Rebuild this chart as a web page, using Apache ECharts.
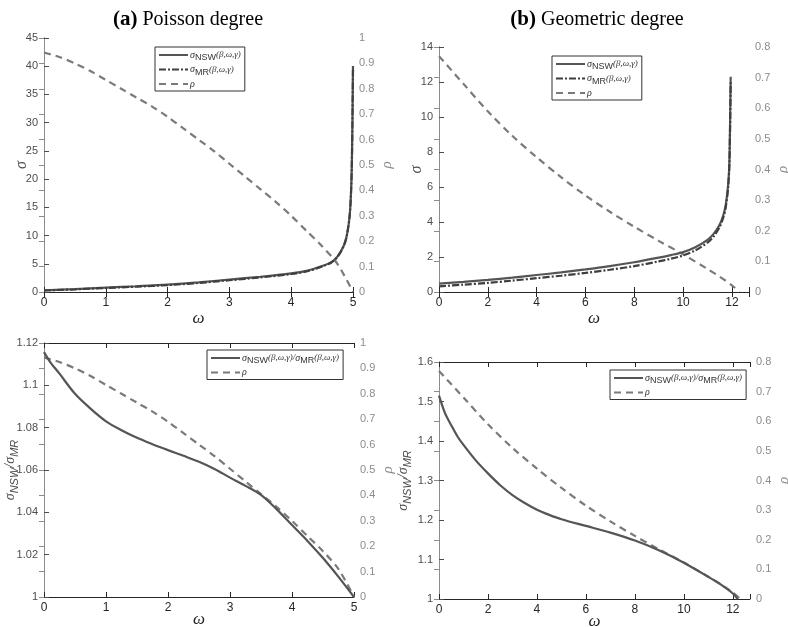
<!DOCTYPE html>
<html><head><meta charset="utf-8">
<script src="https://cdn.jsdelivr.net/npm/echarts@6/dist/echarts.min.js"></script>
<style>html,body{margin:0;padding:0;background:#fff}#c{width:788px;height:627px}</style>
</head><body><div id="c"></div>
<script>
// ---------- Panel (a) Poisson degree ----------
const omegaA = [0,0.5,1,1.5,2,2.5,3,3.5,4,4.25,4.5,4.65,4.75,4.85,4.9,4.95,4.98,5.0];
const sigmaNswA = [0.30,0.52,0.77,1.02,1.30,1.70,2.20,2.70,3.30,3.75,4.60,5.30,6.30,8.20,10.0,14.0,22.0,40.0];
const sigmaMrA  = [0.27,0.47,0.71,0.95,1.22,1.60,2.08,2.58,3.19,3.65,4.52,5.23,6.24,8.15,9.96,13.97,21.98,40.0];
const omegaRhoA = [0,0.25,0.5,0.75,1,1.25,1.5,1.75,2,2.25,2.5,2.75,3,3.25,3.5,3.75,4,4.25,4.5,4.75,5];
const rhoA = [0.943,0.925,0.900,0.870,0.835,0.800,0.765,0.730,0.690,0.645,0.600,0.555,0.505,0.455,0.405,0.355,0.300,0.240,0.180,0.110,0.0];
const omegaRatioA = [0,0.1,0.25,0.5,0.75,1,1.25,1.5,1.75,2,2.25,2.5,2.75,3,3.25,3.5,3.75,4,4.25,4.5,4.75,5];
const ratioA = [1.1157,1.111,1.1055,1.096,1.089,1.083,1.0788,1.0752,1.0722,1.0694,1.0667,1.0639,1.0605,1.0564,1.0525,1.0482,1.0415,1.034,1.0265,1.0184,1.0095,1.0];

// ---------- Panel (b) Geometric degree ----------
const omegaB = [0,1,2,3,4,5,6,7,8,9,9.5,10,10.5,11,11.25,11.5,11.65,11.75,11.85,11.9,11.95];
const sigmaNswB = [0.48,0.58,0.69,0.82,0.97,1.12,1.29,1.48,1.70,1.96,2.11,2.28,2.56,2.98,3.32,3.86,4.40,5.00,6.20,7.60,12.3];
const sigmaMrB  = [0.32,0.42,0.52,0.65,0.79,0.93,1.09,1.27,1.48,1.75,1.90,2.09,2.38,2.82,3.17,3.72,4.27,4.86,6.05,7.43,12.03];
const omegaRhoB = [0,1,2,3,4,5,6,7,8,9,10,11,11.5,12,12.3];
const rhoB = [0.77,0.68,0.59,0.51,0.44,0.375,0.315,0.262,0.213,0.167,0.123,0.075,0.05,0.022,0.0];
const omegaRatioB = [0,0.25,0.5,0.75,1,1.5,2,2.5,3,3.5,4,4.5,5,6,7,8,9,10,11,11.5,12,12.2];
const ratioB = [1.515,1.47,1.44,1.412,1.39,1.351,1.318,1.288,1.263,1.243,1.226,1.213,1.202,1.185,1.168,1.148,1.123,1.092,1.056,1.037,1.014,1.0];

const titles = [{tag:'(a)', text:' Poisson degree', x:188}, {tag:'(b)', text:' Geometric degree', x:597}];

function pairs(xs, ys){ return xs.map((x,i)=>[x,ys[i]]); }

const DARK = '#262626', MID = '#4d4d4d', LIGHT = '#8c8c8c';
const cNsw = '#555555', cMr = '#3f3f3f', cRho = '#7a7a7a';
const TICK_FS = 11;

const grids = [
  {left:44, top:38, width:309, height:254},
  {left:439, top:47, width:310, height:245},
  {left:44, top:343, width:310, height:254},
  {left:439, top:362, width:311, height:237}
].map(g=>Object.assign(g,{containLabel:false, outerBoundsMode:'none'}));
const xCfg = [{max:5, interval:1},{max:12.7, interval:2},{max:5, interval:1},{max:12.7, interval:2}];
const yLeft = [
  {min:0,max:45,interval:5},
  {min:0,max:14,interval:2},
  {min:1,max:1.12,interval:0.02},
  {min:1,max:1.6,interval:0.1}
];
const yRight = [
  {min:0,max:1,interval:0.1},
  {min:0,max:0.8,interval:0.1},
  {min:0,max:1,interval:0.1},
  {min:0,max:0.8,interval:0.1}
];

const xAxis = [], yAxis = [];
grids.forEach((g,i)=>{
  const xc = xCfg[i];
  xAxis.push({
    gridIndex:i, type:'value', min:0, max:xc.max, interval:xc.interval,
    axisLine:{lineStyle:{color:DARK,width:1}},
    axisTick:{inside:true,length:5,lineStyle:{color:DARK}},
    axisLabel:{color:DARK,fontSize:TICK_FS+1,fontFamily:'Liberation Sans',margin:5,
      formatter:v=> (Math.abs(v/xc.interval-Math.round(v/xc.interval))<1e-6)? String(Math.round(v*100)/100):''},
    splitLine:{show:false},
    name:'ω', nameLocation:'middle', nameGap: i<2 ? 18 : 14, nameMoveOverlap:false,
    nameTextStyle:{fontFamily:'Liberation Serif',fontStyle:'italic',fontSize:17,color:DARK}
  });
  xAxis.push({
    gridIndex:i, type:'value', position:'top', min:0, max:xc.max, interval:xc.interval,
    axisLine:{lineStyle:{color:DARK,width:1}},
    axisTick:{inside:true,length:5,lineStyle:{color:DARK}},
    axisLabel:{show:false}, splitLine:{show:false}
  });
});

const leftNames = [
  {name:'σ', gap:14},
  {name:'σ', gap:14},
  {name:'{s|σ}{sub|NSW}{s|/σ}{sub|MR}', gap:24},
  {name:'{s|σ}{sub|NSW}{s|/σ}{sub|MR}', gap:26}
];
grids.forEach((g,i)=>{
  const yl = yLeft[i], yr = yRight[i];
  yAxis.push({
    gridIndex:i, type:'value', position:'left', min:yl.min, max:yl.max, interval:yl.interval,
    axisLine:{show:true,lineStyle:{color:MID}},
    axisTick:{show:true,inside:true,length:5,lineStyle:{color:MID}},
    axisLabel:{color:MID,fontSize:TICK_FS,fontFamily:'Liberation Sans',margin:6},
    splitLine:{show:false},
    name:leftNames[i].name, nameLocation:'middle', nameGap:leftNames[i].gap, nameRotate:90, nameMoveOverlap:false,
    nameTextStyle:{fontFamily:'Liberation Serif',fontStyle:'italic',fontSize:16,color:MID,
      rich:{s:{fontFamily:'Liberation Serif',fontStyle:'italic',fontSize:14,color:MID},
            sub:{fontFamily:'Liberation Sans',fontSize:11,color:MID,padding:[8,0,0,0]}}}
  });
  yAxis.push({
    gridIndex:i, type:'value', position:'right', min:yr.min, max:yr.max, interval:yr.interval,
    axisLine:{show:true,lineStyle:{color:LIGHT}},
    axisTick:{show:true,inside:true,length:5,lineStyle:{color:LIGHT}},
    axisLabel:{color:LIGHT,fontSize:TICK_FS,fontFamily:'Liberation Sans',margin:6},
    splitLine:{show:false},
    name:'ρ', nameLocation:'middle', nameGap:27, nameRotate:90, nameMoveOverlap:false,
    nameTextStyle:{fontFamily:'Liberation Serif',fontStyle:'italic',fontSize:15,color:LIGHT}
  });
});

const series = [];
function line(name, gi, right, xs, ys, color, type){
  series.push({
    name, type:'line', xAxisIndex:gi*2, yAxisIndex:gi*2+(right?1:0),
    data:pairs(xs,ys), symbol:'none', showSymbol:false, smooth:0.3, clip:true,
    lineStyle:{color, width:2.2, type}, itemStyle:{color}, z: right?2:3
  });
}
line('nswA',0,false,omegaA,sigmaNswA,cNsw,'solid');
line('mrA',0,false,omegaA,sigmaMrA,cMr,[7,2,2,2]);
line('rhoA',0,true,omegaRhoA,rhoA,cRho,[7,5]);
line('nswB',1,false,omegaB,sigmaNswB,cNsw,'solid');
line('mrB',1,false,omegaB,sigmaMrB,cMr,[7,2,2,2]);
line('rhoB',1,true,omegaRhoB,rhoB,cRho,[7,5]);
line('ratA',2,false,omegaRatioA,ratioA,cNsw,'solid');
line('rhoA2',2,true,omegaRhoA,rhoA,cRho,[7,5]);
line('ratB',3,false,omegaRatioB,ratioB,cNsw,'solid');
line('rhoB2',3,true,omegaRhoB,rhoB,cRho,[7,5]);

const legendText = {
  nswA:'{s|σ}{sub|NSW}{p|(β,ω,γ)}', nswB:'{s|σ}{sub|NSW}{p|(β,ω,γ)}',
  mrA:'{s|σ}{sub|MR}{p|(β,ω,γ)}', mrB:'{s|σ}{sub|MR}{p|(β,ω,γ)}',
  rhoA:'{s|ρ}', rhoB:'{s|ρ}', rhoA2:'{s|ρ}', rhoB2:'{s|ρ}',
  ratA:'{s|σ}{sub|NSW}{p|(β,ω,γ)/}{s|σ}{sub|MR}{p|(β,ω,γ)}',
  ratB:'{s|σ}{sub|NSW}{p|(β,ω,γ)/}{s|σ}{sub|MR}{p|(β,ω,γ)}'
};
const rich = {
  s:{fontFamily:'Liberation Serif',fontStyle:'italic',fontSize:10,color:'#333'},
  sub:{fontFamily:'Liberation Sans',fontSize:9,color:'#333',padding:[6,0,0,0]},
  p:{fontFamily:'Liberation Serif',fontStyle:'italic',fontSize:9,color:'#333'}
};
function legend(names, left, top){
  return {data:names, left, top, orient:'vertical', itemWidth:29, itemHeight:10, itemGap:2,
    borderColor:'#333', borderWidth:1, padding:[3,4,2,3], backgroundColor:'#fff',
    selectedMode:false, itemStyle:{opacity:0, borderWidth:0},
    formatter:n=>legendText[n], textStyle:{rich, padding:[0,0,0,-3]}};
}
const legends = [
  legend(['nswA','mrA','rhoA'],155,47),
  legend(['nswB','mrB','rhoB'],552,56),
  legend(['ratA','rhoA2'],207,350),
  legend(['ratB','rhoB2'],610,370)
];

const graphic = titles.map(t=>({type:'text', x:t.x, y:20,
  style:{text:'{b|'+t.tag+'}{n|'+t.text+'}', align:'center', verticalAlign:'middle',
    rich:{b:{fontFamily:'Liberation Serif',fontWeight:'bold',fontSize:21,fill:'#000'},
          n:{fontFamily:'Liberation Serif',fontSize:20,fill:'#000'}}}}));

const chart = echarts.init(document.getElementById('c'), null, {renderer:'canvas'});
chart.setOption({animation:false, backgroundColor:'#fff', grid:grids, xAxis, yAxis, series, legend:legends, graphic});
</script></body></html>
